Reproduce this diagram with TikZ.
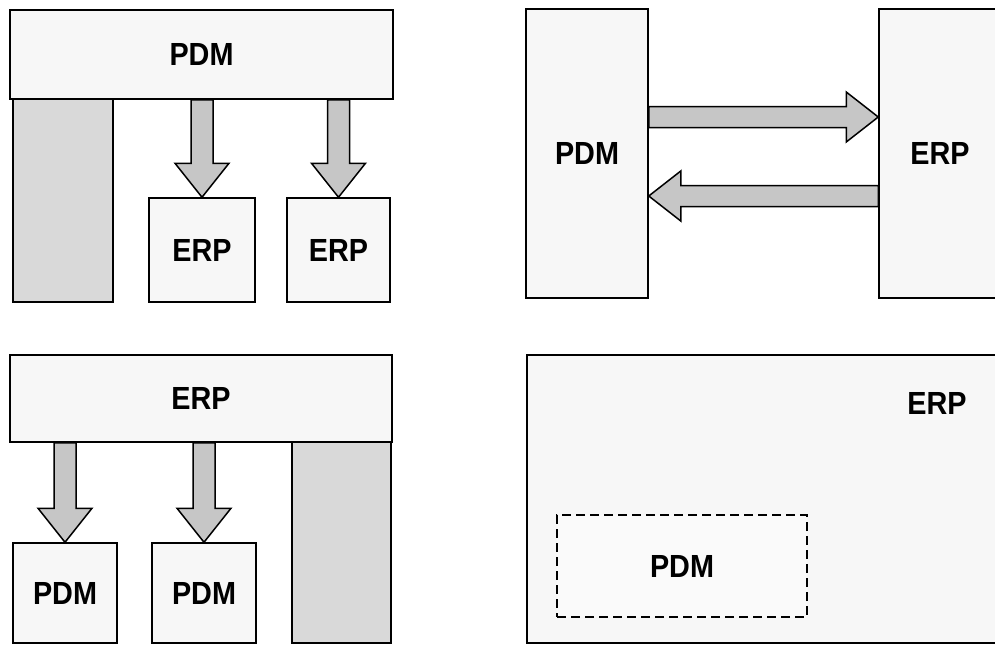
\documentclass[tikz,border=0pt]{standalone}
\usepackage{fontspec}
\setmainfont{Liberation Sans}[FakeStretch=0.9]
\usetikzlibrary{calc, positioning}

\begin{document}
\begin{tikzpicture}[x=1pt, y=-1pt,
    box/.style={draw, line width=1.5pt, fill=gray!6, inner sep=0pt, font=\fontsize{32}{36}\selectfont\bfseries},
    col/.style={draw, line width=1.5pt, fill=gray!30, inner sep=0pt},
    dbox/.style={draw, line width=2pt, dash pattern=on 9pt off 5pt, fill=gray!4, inner sep=0pt, font=\fontsize{32}{36}\selectfont\bfseries},
    lbl/.style={font=\fontsize{32}{36}\selectfont\bfseries, inner sep=0pt},
    fat/.style n args={3}{draw, line width=1.5pt, fill=gray!45, line join=miter, to path={
        ($(\tikztostart)!#1!90:(\tikztotarget)$)
        -- ($(\tikztotarget)!#3!(\tikztostart)!#1!90:(\tikztotarget)$)
        -- ($(\tikztotarget)!#3!(\tikztostart)!#2!90:(\tikztotarget)$)
        -- (\tikztotarget)
        -- ($(\tikztotarget)!#3!(\tikztostart)!#2!-90:(\tikztotarget)$)
        -- ($(\tikztotarget)!#3!(\tikztostart)!#1!-90:(\tikztotarget)$)
        -- ($(\tikztostart)!#1!-90:(\tikztotarget)$)
        -- cycle}},
]
\useasboundingbox (0,0) rectangle (995,646);
\clip (0,0) rectangle (995,646);

% PDM on top, ERP below
\node[col, minimum width=100pt, minimum height=203pt] (colA) at (63,200.5) {};
\node[box, minimum width=383pt, minimum height=89pt] (pdmbar) at (201.5,54.5) {PDM};
\node[box, minimum width=106pt, minimum height=104pt] (erpa) at (202,250) {ERP};
\node[box, minimum width=103pt, minimum height=104pt] (erpb) at (338.5,250) {ERP};

\coordinate (fa) at (pdmbar.south -| erpa.north);
\coordinate (fb) at (pdmbar.south -| erpb.north);
\draw[fat={11pt}{27pt}{34pt}] (fa) to (erpa.north);
\draw[fat={11pt}{27pt}{34pt}] (fb) to (erpb.north);

% PDM and ERP side by side
\node[box, minimum width=122pt, minimum height=289pt] (pdmtall) at (587,153.5) {PDM};
\node[box, minimum width=122pt, minimum height=289pt] (erptall) at (940,153.5) {ERP};

\coordinate (ra) at ([yshift=36.5pt]pdmtall.east);
\coordinate (rb) at (ra -| erptall.west);
\coordinate (la) at ([yshift=-42.5pt]erptall.west);
\coordinate (lb) at (la -| pdmtall.east);
\draw[fat={10.5pt}{25pt}{32pt}] (ra) to (rb);
\draw[fat={10.5pt}{25pt}{32pt}] (la) to (lb);

% ERP on top, PDM below
\node[col, minimum width=99pt, minimum height=201pt] (colB) at (341.5,542.5) {};
\node[box, minimum width=382pt, minimum height=87pt] (erpbar) at (201,398.5) {ERP};
\node[box, minimum width=104pt, minimum height=100pt] (pdma) at (65,593) {PDM};
\node[box, minimum width=104pt, minimum height=100pt] (pdmb) at (204,593) {PDM};

\coordinate (fc) at (erpbar.south -| pdma.north);
\coordinate (fd) at (erpbar.south -| pdmb.north);
\draw[fat={11pt}{27pt}{34pt}] (fc) to (pdma.north);
\draw[fat={11pt}{27pt}{34pt}] (fd) to (pdmb.north);

% PDM inside ERP
\node[box, minimum width=474pt, minimum height=288pt] (erpbig) at (764,499) {};
\node[lbl] (erpname) at (937,403) {ERP};
\node[dbox, minimum width=250pt, minimum height=102pt] (pdmdash) at (682,566) {PDM};

\end{tikzpicture}
\end{document}
